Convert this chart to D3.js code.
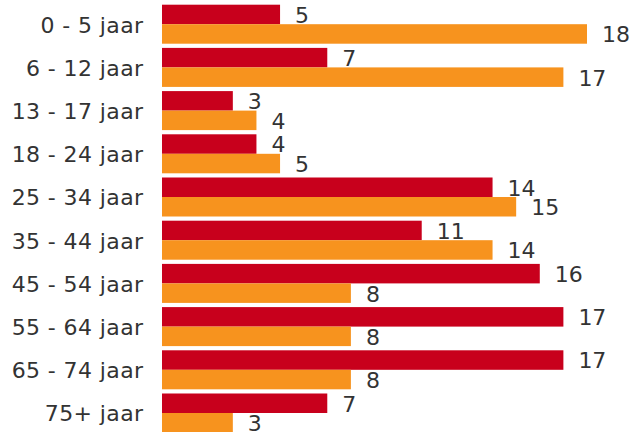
<!DOCTYPE html>
<html>
<head>
<meta charset="utf-8">
<script src="https://cdn.jsdelivr.net/npm/d3@7"></script>
<style>
html,body{margin:0;padding:0;background:#fff;}
svg{display:block;}
</style>
</head>
<body>
<svg id="chart" width="631" height="432"></svg>
<script>
const categories = ["0 - 5 jaar","6 - 12 jaar","13 - 17 jaar","18 - 24 jaar","25 - 34 jaar","35 - 44 jaar","45 - 54 jaar","55 - 64 jaar","65 - 74 jaar","75+ jaar"];
const seriesRed = [5,7,3,4,14,11,16,17,17,7];
const seriesOrange = [18,17,4,5,15,14,8,8,8,3];
const seriesKeys = ["red","orange"];
const colors = {red:"#c8001c", orange:"#f7931e"};

const svg = d3.select("#chart");
const x = d3.scaleLinear().domain([0,18]).range([162,587]);
const y = d3.scaleBand().domain(categories).range([2.6,434.6]).paddingInner(0.097).paddingOuter(0.0485);
const ySub = d3.scaleBand().domain(seriesKeys).range([0,y.bandwidth()]);

const data = categories.map((c,i)=>({cat:c, values:[{key:"red",v:seriesRed[i]},{key:"orange",v:seriesOrange[i]}]}));

const font = "'DejaVu Sans', Verdana, sans-serif";
const textColor = "#333";

const g = svg.selectAll("g.grp").data(data).join("g").attr("class","grp")
  .attr("transform", d=>`translate(0,${y(d.cat)})`);

g.selectAll("rect").data(d=>d.values).join("rect")
  .attr("x", x(0))
  .attr("y", d=>ySub(d.key))
  .attr("width", d=>x(d.v)-x(0))
  .attr("height", ySub.bandwidth())
  .attr("fill", d=>colors[d.key]);

g.selectAll("text.val").data(d=>d.values).join("text").attr("class","val")
  .attr("x", d=>x(d.v)+15)
  .attr("y", d=>ySub(d.key)+ySub.bandwidth()/2)
  .attr("dy","0.38em")
  .attr("font-family", font)
  .attr("font-size", 22)
  .attr("fill", textColor)
  .text(d=>d.v);

const yAxis = d3.axisLeft(y).tickSize(0).tickPadding(0);
const ax = svg.append("g").attr("transform","translate(143.5,0)").call(yAxis);
ax.select(".domain").remove();
ax.selectAll("text").attr("font-family", font).attr("font-size", 22).attr("fill", textColor)
  .attr("letter-spacing", "0.4px").attr("dy","0.38em");
</script>
</body>
</html>
